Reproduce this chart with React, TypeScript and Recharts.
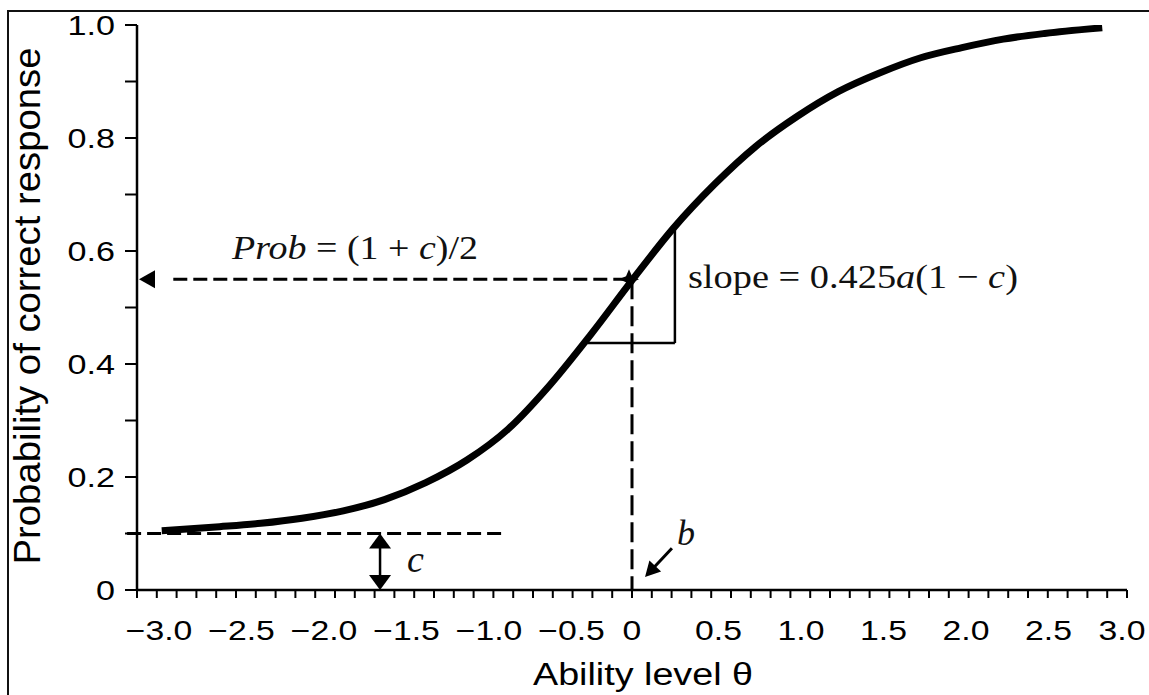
import React from 'react';
import { LineChart, Line, XAxis, YAxis, ReferenceLine, ReferenceDot } from 'recharts';

// item characteristic curve
const abilityTheta = [-2.85, -2.5, -2.25, -2.0, -1.75, -1.5, -1.25, -1.0, -0.75, -0.5, -0.25, 0, 0.25, 0.5, 0.75, 1.0, 1.25, 1.5, 1.75, 2.0, 2.25, 2.5, 2.85];
const probCorrect = [0.105, 0.112, 0.118, 0.127, 0.14, 0.16, 0.19, 0.23, 0.285, 0.362, 0.452, 0.548, 0.64, 0.718, 0.785, 0.838, 0.882, 0.915, 0.942, 0.96, 0.975, 0.985, 0.995];

const xLabelTicks = [-3, -2.5, -2, -1.5, -1, -0.5, 0, 0.5, 1, 1.5, 2, 2.5, 3];
const xMinorTicks = Array.from({ length: 51 }, (_, i) => -3 + i * 0.12);
const yTicks = [0, 0.1, 0.2, 0.3, 0.4, 0.5, 0.6, 0.7, 0.8, 0.9, 1.0];
const yLabelTicks = [0, 0.2, 0.4, 0.6, 0.8, 1.0];

// annotation values
const guessing = 0.1;
const midProb = 0.55;
const difficulty = 0;
const triLow = { x: -0.27, y: 0.437 };
const triHigh = { x: 0.26, y: 0.645 };

const data = abilityTheta.map((t, i) => ({ theta: t, p: probCorrect[i] }));

const W = 1149;
const H = 695;
const SANS = '"Liberation Sans", Arial, Helvetica, sans-serif';
const SERIF = '"Liberation Serif", "Times New Roman", serif';

const near = (list: number[], v: number) => list.some((t) => Math.abs(t - v) < 1e-6);

const fmtX = (v: number) => (Math.abs(v) < 1e-9 ? '0' : (v < 0 ? '\u2212' : '') + Math.abs(v).toFixed(1));
const fmtY = (v: number) => (v === 0 ? '0' : v.toFixed(1));

function XTick(props: any) {
    const { x, y, payload } = props;
    const v = payload.value;
    const shift = v < -1e-9 ? 22 : v > 1e-9 ? 4 : 0;
    // keep the last label inside the picture
    const cx = Math.min(x + shift, W - 27);
    return (
        <text
            transform={`translate(${cx},${y + 49}) scale(1.25,1)`}
            textAnchor="middle"
            fontFamily={SANS}
            fontSize={27}
            fill="#000"
        >
            {fmtX(v)}
        </text>
    );
}

function YTick(props: any) {
    const { x, y, payload } = props;
    if (!near(yLabelTicks, payload.value)) return <g />;
    return (
        <text
            transform={`translate(${x - 8},${y + 10}) scale(1.22,1)`}
            textAnchor="end"
            fontFamily={SANS}
            fontSize={28}
            fill="#000"
        >
            {fmtY(payload.value)}
        </text>
    );
}

function ArrowHead({ cx, cy, angle, len = 15, half = 9 }: any) {
    return (
        <polygon
            transform={`translate(${cx},${cy}) rotate(${angle})`}
            points={`0,0 ${-len},${-half} ${-len},${half}`}
            fill="#000"
        />
    );
}

function Star({ cx, cy }: any) {
    const r = 10;
    const q = 3;
    const pts = [
        [0, -r], [q, -q], [r, 0], [q, q], [0, r], [-q, q], [-r, 0], [-q, -q],
    ].map(([a, b]) => `${cx + a},${cy + b}`).join(' ');
    return <polygon points={pts} fill="#000" />;
}

const dashed = { stroke: '#000', strokeWidth: 3 };

export default function App() {
    return (
        <div style={{ position: 'absolute', left: 0, top: 0, width: W, height: H, background: '#fff', overflow: 'hidden' }}>
            <div
                style={{
                    position: 'absolute', left: 7, top: 10, width: 1160, height: 700,
                    borderTop: '2px solid #111', borderLeft: '2px solid #111',
                }}
            />
            <div style={{ position: 'absolute', left: 0, top: 0 }}>
                <LineChart width={W} height={H} data={data} margin={{ top: 25, right: 22, bottom: 25, left: 57 }}>
                    <XAxis
                        xAxisId="zlbl"
                        dataKey="theta"
                        type="number"
                        domain={[-3, 3]}
                        allowDataOverflow
                        ticks={xLabelTicks}
                        interval={0}
                        height={79}
                        tickSize={0}
                        tickMargin={0}
                        axisLine={false}
                        tickLine={false}
                        tick={<XTick />}
                        label={{
                            content: () => (
                                <text x={643} y={685} textAnchor="middle" fontFamily={SANS} fontSize={31} fill="#000" textLength={220} lengthAdjust="spacingAndGlyphs">
                                    Ability level θ
                                </text>
                            ),
                        }}
                    />
                    <XAxis
                        xAxisId="aminor"
                        dataKey="theta"
                        type="number"
                        domain={[-3, 3]}
                        allowDataOverflow
                        ticks={xMinorTicks}
                        interval={0}
                        height={1}
                        tickSize={8}
                        tick={() => <g />}
                        axisLine={{ stroke: '#000', strokeWidth: 2.5 }}
                        tickLine={{ stroke: '#000', strokeWidth: 2 }}
                    />
                    <YAxis
                        type="number"
                        domain={[0, 1]}
                        allowDataOverflow
                        ticks={yTicks}
                        interval={0}
                        width={80}
                        tickSize={12}
                        tick={<YTick />}
                        axisLine={{ stroke: '#000', strokeWidth: 2.5 }}
                        tickLine={{ stroke: '#000', strokeWidth: 2 }}
                        label={{
                            content: () => (
                                <text
                                    transform="translate(40,306) rotate(-90)"
                                    textAnchor="middle"
                                    fontFamily={SANS}
                                    fontSize={37}
                                    fill="#000"
                                    textLength={517}
                                    lengthAdjust="spacingAndGlyphs"
                                >
                                    Probability of correct response
                                </text>
                            ),
                        }}
                    />

                    {/* lower asymptote c */}
                    <ReferenceLine xAxisId="aminor" ifOverflow="visible" segment={[{ x: -3.06, y: guessing }, { x: -0.79, y: guessing }]} {...dashed} strokeDasharray="14 6" />
                    <ReferenceLine xAxisId="aminor" segment={[{ x: -1.527, y: guessing - 0.02 }, { x: -1.527, y: 0.02 }]} stroke="#000" strokeWidth={2.5} />
                    <ReferenceDot xAxisId="aminor" x={-1.527} y={guessing} shape={(p: any) => <ArrowHead cx={p.cx} cy={p.cy} angle={-90} half={11} />} />
                    <ReferenceDot xAxisId="aminor" x={-1.527} y={0} shape={(p: any) => <ArrowHead cx={p.cx} cy={p.cy} angle={90} half={11} />} />

                    {/* (1 + c)/2 guide */}
                    <ReferenceLine xAxisId="aminor" segment={[{ x: -2.78, y: midProb }, { x: difficulty, y: midProb }]} {...dashed} strokeDasharray="14 6" />
                    <ReferenceDot xAxisId="aminor" x={-3} y={midProb} shape={(p: any) => <ArrowHead cx={p.cx + 2} cy={p.cy} angle={180} len={16} half={9} />} />
                    <ReferenceLine xAxisId="aminor" segment={[{ x: difficulty, y: midProb }, { x: difficulty, y: 0 }]} {...dashed} strokeDasharray="20 7" />

                    {/* slope triangle */}
                    <ReferenceLine xAxisId="aminor" segment={[{ x: triLow.x, y: triLow.y }, { x: triHigh.x, y: triLow.y }]} stroke="#000" strokeWidth={2.5} />
                    <ReferenceLine xAxisId="aminor" segment={[{ x: triHigh.x, y: triLow.y }, { x: triHigh.x, y: triHigh.y }]} stroke="#000" strokeWidth={2.5} />

                    {/* b arrow */}
                    <ReferenceLine xAxisId="aminor" segment={[{ x: 0.242, y: 0.074 }, { x: 0.12, y: 0.036 }]} stroke="#000" strokeWidth={3} />
                    <ReferenceDot xAxisId="aminor" x={0.079} y={0.023} shape={(p: any) => <ArrowHead cx={p.cx} cy={p.cy} angle={133} len={15} half={8} />} />

                    <Line
                        xAxisId="aminor"
                        type="monotone"
                        dataKey="p"
                        stroke="#000"
                        strokeWidth={7}
                        dot={false}
                        activeDot={false}
                        isAnimationActive={false}
                    />

                    <ReferenceDot xAxisId="aminor" x={difficulty} y={midProb} shape={(p: any) => <Star cx={p.cx - 3} cy={p.cy} />} />

                    {/* texts */}
                    <ReferenceDot
                        xAxisId="aminor"
                        x={-2.424}
                        y={0.586}
                        shape={(p: any) => (
                            <text x={p.cx} y={p.cy} fontFamily={SERIF} fontSize={34} fill="#111" textLength={246} lengthAdjust="spacingAndGlyphs">
                                <tspan fontStyle="italic">Prob</tspan> = (1 + <tspan fontStyle="italic">c</tspan>)/2
                            </text>
                        )}
                    />
                    <ReferenceDot
                        xAxisId="aminor"
                        x={0.339}
                        y={0.5345}
                        shape={(p: any) => (
                            <text x={p.cx} y={p.cy} fontFamily={SERIF} fontSize={34} fill="#111" textLength={330} lengthAdjust="spacingAndGlyphs">
                                slope = 0.425<tspan fontStyle="italic">a</tspan>(1 {'\u2212'} <tspan fontStyle="italic">c</tspan>)
                            </text>
                        )}
                    />
                    <ReferenceDot
                        xAxisId="aminor"
                        x={-1.364}
                        y={0.032}
                        shape={(p: any) => (
                            <text x={p.cx} y={p.cy} fontFamily={SERIF} fontStyle="italic" fontSize={38} fill="#111">
                                c
                            </text>
                        )}
                    />
                    <ReferenceDot
                        xAxisId="aminor"
                        x={0.273}
                        y={0.08}
                        shape={(p: any) => (
                            <text x={p.cx} y={p.cy} fontFamily={SERIF} fontStyle="italic" fontSize={36} fill="#111">
                                b
                            </text>
                        )}
                    />
                </LineChart>
            </div>
        </div>
    );
}
